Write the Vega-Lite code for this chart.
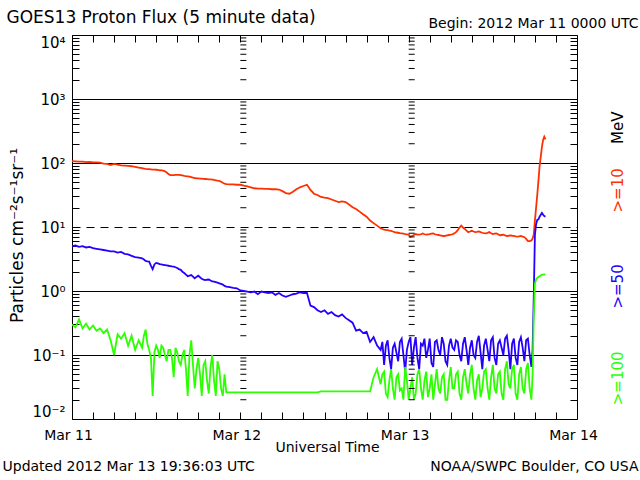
{
  "$schema": "https://vega.github.io/schema/vega-lite/v6.json",
  "width": 505,
  "height": 384,
  "autosize": {"type": "none"},
  "padding": {"left": 72, "top": 35, "right": 63, "bottom": 61},
  "background": "white",
  "config": {
    "view": {"stroke": "black", "strokeWidth": 1},
    "font": "DejaVu Sans",
    "axis": {"domain": false, "tickColor": "black", "labelColor": "black", "titleColor": "black", "labelFont": "DejaVu Sans", "titleFont": "DejaVu Sans", "titleFontWeight": "normal", "labelOverlap": false, "labelBound": false, "labelLimit": 500, "titleLimit": 500}
  },
  "resolve": {"scale": {"x": "independent", "y": "independent"}, "axis": {"x": "independent", "y": "independent"}},
  "layer": [
    {
      "data": {"values": [
        {"t":"2012-03-11T00:00Z","p10":107,"p50":5.01,"p100":0.30},
        {"t":"2012-03-11T00:30Z","p10":106,"p50":5.13,"p100":0.27},
        {"t":"2012-03-11T01:00Z","p10":105,"p50":4.90,"p100":0.36},
        {"t":"2012-03-11T01:30Z","p10":105,"p50":5.01,"p100":0.26},
        {"t":"2012-03-11T02:00Z","p10":103,"p50":4.79,"p100":0.31},
        {"t":"2012-03-11T02:30Z","p10":104,"p50":4.90,"p100":0.25},
        {"t":"2012-03-11T03:00Z","p10":102,"p50":4.68,"p100":0.29},
        {"t":"2012-03-11T03:30Z","p10":102,"p50":4.57,"p100":0.24},
        {"t":"2012-03-11T04:00Z","p10":101,"p50":4.47,"p100":0.26},
        {"t":"2012-03-11T04:30Z","p10":98,"p50":4.37,"p100":0.22},
        {"t":"2012-03-11T05:00Z","p10":97,"p50":4.27,"p100":0.25},
        {"t":"2012-03-11T05:30Z","p10":93,"p50":4.17,"p100":0.17},
        {"t":"2012-03-11T06:00Z","p10":97,"p50":4.17,"p100":0.10},
        {"t":"2012-03-11T06:30Z","p10":94,"p50":3.98,"p100":0.21},
        {"t":"2012-03-11T07:00Z","p10":92,"p50":4.07,"p100":0.18},
        {"t":"2012-03-11T07:30Z","p10":91,"p50":3.80,"p100":0.22},
        {"t":"2012-03-11T08:00Z","p10":90,"p50":3.72,"p100":0.14},
        {"t":"2012-03-11T08:30Z","p10":89,"p50":3.55,"p100":0.20},
        {"t":"2012-03-11T09:00Z","p10":87,"p50":3.39,"p100":0.12},
        {"t":"2012-03-11T09:30Z","p10":85,"p50":3.31,"p100":0.17},
        {"t":"2012-03-11T10:00Z","p10":83,"p50":3.24,"p100":0.13},
        {"t":"2012-03-11T10:15Z","p10":82,"p50":3.1,"p100":0.20},
        {"t":"2012-03-11T10:30Z","p10":81,"p50":2.95,"p100":0.25},
        {"t":"2012-03-11T10:45Z","p10":80.5,"p50":2.9,"p100":0.15},
        {"t":"2012-03-11T11:00Z","p10":80,"p50":2.88,"p100":0.12},
        {"t":"2012-03-11T11:15Z","p10":79.5,"p50":2.5,"p100":0.09},
        {"t":"2012-03-11T11:30Z","p10":79,"p50":2.19,"p100":0.023},
        {"t":"2012-03-11T11:45Z","p10":78.7,"p50":2.6,"p100":0.11},
        {"t":"2012-03-11T12:00Z","p10":78.5,"p50":2.75,"p100":0.14},
        {"t":"2012-03-11T12:15Z","p10":77.8,"p50":2.7,"p100":0.12},
        {"t":"2012-03-11T12:30Z","p10":77,"p50":2.63,"p100":0.09},
        {"t":"2012-03-11T12:45Z","p10":76.5,"p50":2.6,"p100":0.14},
        {"t":"2012-03-11T13:00Z","p10":76,"p50":2.57,"p100":0.13},
        {"t":"2012-03-11T13:15Z","p10":74,"p50":2.54,"p100":0.10},
        {"t":"2012-03-11T13:30Z","p10":71,"p50":2.51,"p100":0.08},
        {"t":"2012-03-11T13:45Z","p10":67,"p50":2.48,"p100":0.12},
        {"t":"2012-03-11T14:00Z","p10":64.6,"p50":2.45,"p100":0.12},
        {"t":"2012-03-11T14:15Z","p10":64.5,"p50":2.42,"p100":0.09},
        {"t":"2012-03-11T14:30Z","p10":64.5,"p50":2.40,"p100":0.045},
        {"t":"2012-03-11T14:45Z","p10":65,"p50":2.35,"p100":0.13},
        {"t":"2012-03-11T15:00Z","p10":65.3,"p50":2.29,"p100":0.11},
        {"t":"2012-03-11T15:15Z","p10":65,"p50":2.2,"p100":0.08},
        {"t":"2012-03-11T15:30Z","p10":64.6,"p50":2.14,"p100":0.07},
        {"t":"2012-03-11T15:45Z","p10":63.8,"p50":2.0,"p100":0.10},
        {"t":"2012-03-11T16:00Z","p10":63,"p50":1.91,"p100":0.12},
        {"t":"2012-03-11T16:15Z","p10":62.3,"p50":1.8,"p100":0.06},
        {"t":"2012-03-11T16:30Z","p10":61.7,"p50":1.70,"p100":0.023},
        {"t":"2012-03-11T16:45Z","p10":61,"p50":1.74,"p100":0.10},
        {"t":"2012-03-11T17:00Z","p10":60.3,"p50":1.78,"p100":0.17},
        {"t":"2012-03-11T17:15Z","p10":59.2,"p50":1.68,"p100":0.07},
        {"t":"2012-03-11T17:30Z","p10":58.2,"p50":1.58,"p100":0.03},
        {"t":"2012-03-11T17:45Z","p10":57.8,"p50":1.66,"p100":0.06},
        {"t":"2012-03-11T18:00Z","p10":57.5,"p50":1.74,"p100":0.09},
        {"t":"2012-03-11T18:15Z","p10":57.2,"p50":1.64,"p100":0.05},
        {"t":"2012-03-11T18:30Z","p10":56.9,"p50":1.55,"p100":0.023},
        {"t":"2012-03-11T18:45Z","p10":56.5,"p50":1.5,"p100":0.07},
        {"t":"2012-03-11T19:00Z","p10":56.2,"p50":1.48,"p100":0.08},
        {"t":"2012-03-11T19:15Z","p10":55.9,"p50":1.5,"p100":0.04},
        {"t":"2012-03-11T19:30Z","p10":55.6,"p50":1.51,"p100":0.025},
        {"t":"2012-03-11T19:45Z","p10":55.3,"p50":1.46,"p100":0.065},
        {"t":"2012-03-11T20:00Z","p10":55,"p50":1.41,"p100":0.10},
        {"t":"2012-03-11T20:15Z","p10":54.3,"p50":1.4,"p100":0.04},
        {"t":"2012-03-11T20:30Z","p10":53.7,"p50":1.38,"p100":0.023},
        {"t":"2012-03-11T20:45Z","p10":53,"p50":1.35,"p100":0.08},
        {"t":"2012-03-11T21:00Z","p10":52.5,"p50":1.32,"p100":0.06},
        {"t":"2012-03-11T21:15Z","p10":51,"p50":1.29,"p100":0.03},
        {"t":"2012-03-11T21:30Z","p10":49,"p50":1.26,"p100":0.023},
        {"t":"2012-03-11T21:45Z","p10":47.5,"p50":1.2,"p100":0.05},
        {"t":"2012-03-11T22:00Z","p10":46.8,"p50":1.17,"p100":0.026},
        {"t":"2012-03-11T22:30Z","p10":46.2,"p50":1.15,"p100":0.026},
        {"t":"2012-03-11T23:00Z","p10":46.2,"p50":1.12,"p100":0.026},
        {"t":"2012-03-11T23:30Z","p10":45.7,"p50":1.10,"p100":0.026},
        {"t":"2012-03-12T00:00Z","p10":45.7,"p50":1.02,"p100":0.026},
        {"t":"2012-03-12T00:30Z","p10":44.2,"p50":1.00,"p100":0.026},
        {"t":"2012-03-12T01:00Z","p10":43.2,"p50":0.98,"p100":0.026},
        {"t":"2012-03-12T01:30Z","p10":41.7,"p50":0.955,"p100":0.026},
        {"t":"2012-03-12T02:00Z","p10":40.3,"p50":0.98,"p100":0.026},
        {"t":"2012-03-12T02:30Z","p10":39.8,"p50":0.89,"p100":0.026},
        {"t":"2012-03-12T03:00Z","p10":39.8,"p50":0.98,"p100":0.026},
        {"t":"2012-03-12T03:30Z","p10":39.4,"p50":0.955,"p100":0.026},
        {"t":"2012-03-12T04:00Z","p10":39.4,"p50":0.93,"p100":0.026},
        {"t":"2012-03-12T04:30Z","p10":38.9,"p50":0.955,"p100":0.026},
        {"t":"2012-03-12T05:00Z","p10":38.9,"p50":0.87,"p100":0.026},
        {"t":"2012-03-12T05:30Z","p10":38.5,"p50":0.93,"p100":0.026},
        {"t":"2012-03-12T06:00Z","p10":36.3,"p50":0.85,"p100":0.026},
        {"t":"2012-03-12T06:30Z","p10":33.9,"p50":0.81,"p100":0.026},
        {"t":"2012-03-12T07:00Z","p10":33.1,"p50":0.85,"p100":0.026},
        {"t":"2012-03-12T07:30Z","p10":35.5,"p50":0.89,"p100":0.026},
        {"t":"2012-03-12T08:00Z","p10":38.9,"p50":0.91,"p100":0.026},
        {"t":"2012-03-12T08:30Z","p10":41.7,"p50":0.955,"p100":0.026},
        {"t":"2012-03-12T09:00Z","p10":43.7,"p50":0.93,"p100":0.026},
        {"t":"2012-03-12T09:30Z","p10":45.7,"p50":0.93,"p100":0.026},
        {"t":"2012-03-12T10:00Z","p10":38,"p50":0.59,"p100":0.026},
        {"t":"2012-03-12T10:30Z","p10":33.1,"p50":0.56,"p100":0.026},
        {"t":"2012-03-12T11:00Z","p10":31.6,"p50":0.50,"p100":0.026},
        {"t":"2012-03-12T11:30Z","p10":29.5,"p50":0.47,"p100":0.027},
        {"t":"2012-03-12T12:00Z","p10":28.8,"p50":0.50,"p100":0.027},
        {"t":"2012-03-12T12:30Z","p10":28.2,"p50":0.44,"p100":0.027},
        {"t":"2012-03-12T13:00Z","p10":26.9,"p50":0.47,"p100":0.027},
        {"t":"2012-03-12T13:30Z","p10":25.7,"p50":0.42,"p100":0.027},
        {"t":"2012-03-12T14:00Z","p10":24.5,"p50":0.40,"p100":0.027},
        {"t":"2012-03-12T14:30Z","p10":25.1,"p50":0.43,"p100":0.027},
        {"t":"2012-03-12T15:00Z","p10":24.5,"p50":0.38,"p100":0.027},
        {"t":"2012-03-12T15:30Z","p10":22.4,"p50":0.35,"p100":0.027},
        {"t":"2012-03-12T16:00Z","p10":20.4,"p50":0.32,"p100":0.027},
        {"t":"2012-03-12T16:30Z","p10":19.1,"p50":0.24,"p100":0.027},
        {"t":"2012-03-12T17:00Z","p10":17.4,"p50":0.25,"p100":0.027},
        {"t":"2012-03-12T17:30Z","p10":15.8,"p50":0.22,"p100":0.027},
        {"t":"2012-03-12T18:00Z","p10":14.5,"p50":0.23,"p100":0.027},
        {"t":"2012-03-12T18:30Z","p10":12.6,"p50":0.16,"p100":0.027},
        {"t":"2012-03-12T19:00Z","p10":11.5,"p50":0.19,"p100":0.045},
        {"t":"2012-03-12T19:30Z","p10":10.5,"p50":0.14,"p100":0.06},
        {"t":"2012-03-12T20:00Z","p10":9.55,"p50":0.12,"p100":0.035},
        {"t":"2012-03-12T20:15Z","p10":9.3,"p50":0.16,"p100":0.05},
        {"t":"2012-03-12T20:30Z","p10":9.12,"p50":0.07,"p100":0.055},
        {"t":"2012-03-12T20:45Z","p10":9.0,"p50":0.14,"p100":0.025},
        {"t":"2012-03-12T21:00Z","p10":8.91,"p50":0.17,"p100":0.022},
        {"t":"2012-03-12T21:15Z","p10":8.8,"p50":0.09,"p100":0.04},
        {"t":"2012-03-12T21:30Z","p10":8.71,"p50":0.06,"p100":0.06},
        {"t":"2012-03-12T21:45Z","p10":8.5,"p50":0.13,"p100":0.03},
        {"t":"2012-03-12T22:00Z","p10":8.32,"p50":0.15,"p100":0.02},
        {"t":"2012-03-12T22:15Z","p10":8.2,"p50":0.11,"p100":0.045},
        {"t":"2012-03-12T22:30Z","p10":8.13,"p50":0.08,"p100":0.05},
        {"t":"2012-03-12T22:45Z","p10":8.0,"p50":0.16,"p100":0.028},
        {"t":"2012-03-12T23:00Z","p10":7.94,"p50":0.18,"p100":0.03},
        {"t":"2012-03-12T23:15Z","p10":7.85,"p50":0.10,"p100":0.02},
        {"t":"2012-03-12T23:30Z","p10":7.76,"p50":0.055,"p100":0.065},
        {"t":"2012-03-12T23:45Z","p10":7.7,"p50":0.12,"p100":0.04},
        {"t":"2012-03-13T00:00Z","p10":7.59,"p50":0.16,"p100":0.02},
        {"t":"2012-03-13T00:15Z","p10":7.0,"p50":0.19,"p100":0.03},
        {"t":"2012-03-13T00:30Z","p10":7.24,"p50":0.07,"p100":0.045},
        {"t":"2012-03-13T00:45Z","p10":7.5,"p50":0.13,"p100":0.02},
        {"t":"2012-03-13T01:00Z","p10":7.76,"p50":0.19,"p100":0.025},
        {"t":"2012-03-13T01:15Z","p10":7.6,"p50":0.09,"p100":0.05},
        {"t":"2012-03-13T01:30Z","p10":7.59,"p50":0.06,"p100":0.06},
        {"t":"2012-03-13T01:45Z","p10":7.7,"p50":0.15,"p100":0.03},
        {"t":"2012-03-13T02:00Z","p10":7.94,"p50":0.14,"p100":0.02},
        {"t":"2012-03-13T02:15Z","p10":7.7,"p50":0.18,"p100":0.04},
        {"t":"2012-03-13T02:30Z","p10":7.59,"p50":0.09,"p100":0.055},
        {"t":"2012-03-13T02:45Z","p10":7.7,"p50":0.12,"p100":0.022},
        {"t":"2012-03-13T03:00Z","p10":7.76,"p50":0.18,"p100":0.03},
        {"t":"2012-03-13T03:15Z","p10":7.9,"p50":0.075,"p100":0.05},
        {"t":"2012-03-13T03:30Z","p10":7.94,"p50":0.065,"p100":0.02},
        {"t":"2012-03-13T03:45Z","p10":7.7,"p50":0.16,"p100":0.035},
        {"t":"2012-03-13T04:00Z","p10":7.59,"p50":0.17,"p100":0.06},
        {"t":"2012-03-13T04:15Z","p10":7.5,"p50":0.12,"p100":0.03},
        {"t":"2012-03-13T04:30Z","p10":7.41,"p50":0.10,"p100":0.025},
        {"t":"2012-03-13T04:45Z","p10":7.3,"p50":0.19,"p100":0.045},
        {"t":"2012-03-13T05:00Z","p10":7.24,"p50":0.15,"p100":0.05},
        {"t":"2012-03-13T05:15Z","p10":7.3,"p50":0.08,"p100":0.02},
        {"t":"2012-03-13T05:30Z","p10":7.41,"p50":0.07,"p100":0.02},
        {"t":"2012-03-13T05:45Z","p10":7.5,"p50":0.14,"p100":0.04},
        {"t":"2012-03-13T06:00Z","p10":7.59,"p50":0.18,"p100":0.065},
        {"t":"2012-03-13T06:15Z","p10":7.7,"p50":0.13,"p100":0.03},
        {"t":"2012-03-13T06:30Z","p10":7.94,"p50":0.12,"p100":0.03},
        {"t":"2012-03-13T06:45Z","p10":8.3,"p50":0.17,"p100":0.05},
        {"t":"2012-03-13T07:00Z","p10":8.91,"p50":0.16,"p100":0.055},
        {"t":"2012-03-13T07:15Z","p10":9.8,"p50":0.10,"p100":0.025},
        {"t":"2012-03-13T07:30Z","p10":10.5,"p50":0.08,"p100":0.02},
        {"t":"2012-03-13T07:45Z","p10":9.8,"p50":0.15,"p100":0.045},
        {"t":"2012-03-13T08:00Z","p10":9.33,"p50":0.19,"p100":0.06},
        {"t":"2012-03-13T08:15Z","p10":8.8,"p50":0.12,"p100":0.035},
        {"t":"2012-03-13T08:30Z","p10":8.32,"p50":0.07,"p100":0.025},
        {"t":"2012-03-13T08:45Z","p10":8.5,"p50":0.13,"p100":0.05},
        {"t":"2012-03-13T09:00Z","p10":8.71,"p50":0.17,"p100":0.07},
        {"t":"2012-03-13T09:15Z","p10":8.5,"p50":0.10,"p100":0.03},
        {"t":"2012-03-13T09:30Z","p10":8.32,"p50":0.09,"p100":0.02},
        {"t":"2012-03-13T09:45Z","p10":8.4,"p50":0.16,"p100":0.04},
        {"t":"2012-03-13T10:00Z","p10":8.51,"p50":0.20,"p100":0.05},
        {"t":"2012-03-13T10:15Z","p10":8.3,"p50":0.11,"p100":0.022},
        {"t":"2012-03-13T10:30Z","p10":8.13,"p50":0.06,"p100":0.03},
        {"t":"2012-03-13T10:45Z","p10":8.0,"p50":0.14,"p100":0.055},
        {"t":"2012-03-13T11:00Z","p10":7.94,"p50":0.18,"p100":0.06},
        {"t":"2012-03-13T11:15Z","p10":8.1,"p50":0.12,"p100":0.03},
        {"t":"2012-03-13T11:30Z","p10":8.32,"p50":0.08,"p100":0.02},
        {"t":"2012-03-13T11:45Z","p10":8.0,"p50":0.17,"p100":0.045},
        {"t":"2012-03-13T12:00Z","p10":7.76,"p50":0.19,"p100":0.07},
        {"t":"2012-03-13T12:15Z","p10":7.85,"p50":0.09,"p100":0.03},
        {"t":"2012-03-13T12:30Z","p10":7.94,"p50":0.07,"p100":0.025},
        {"t":"2012-03-13T12:45Z","p10":7.7,"p50":0.15,"p100":0.05},
        {"t":"2012-03-13T13:00Z","p10":7.41,"p50":0.17,"p100":0.055},
        {"t":"2012-03-13T13:15Z","p10":7.5,"p50":0.13,"p100":0.025},
        {"t":"2012-03-13T13:30Z","p10":7.59,"p50":0.10,"p100":0.02},
        {"t":"2012-03-13T13:45Z","p10":7.4,"p50":0.18,"p100":0.06},
        {"t":"2012-03-13T14:00Z","p10":7.24,"p50":0.20,"p100":0.08},
        {"t":"2012-03-13T14:15Z","p10":7.3,"p50":0.12,"p100":0.035},
        {"t":"2012-03-13T14:30Z","p10":7.41,"p50":0.06,"p100":0.03},
        {"t":"2012-03-13T14:45Z","p10":7.3,"p50":0.15,"p100":0.06},
        {"t":"2012-03-13T15:00Z","p10":7.24,"p50":0.18,"p100":0.07},
        {"t":"2012-03-13T15:15Z","p10":7.15,"p50":0.09,"p100":0.025},
        {"t":"2012-03-13T15:30Z","p10":7.08,"p50":0.07,"p100":0.02},
        {"t":"2012-03-13T15:45Z","p10":7.15,"p50":0.16,"p100":0.05},
        {"t":"2012-03-13T16:00Z","p10":7.24,"p50":0.19,"p100":0.065},
        {"t":"2012-03-13T16:15Z","p10":7.1,"p50":0.13,"p100":0.03},
        {"t":"2012-03-13T16:30Z","p10":6.92,"p50":0.08,"p100":0.025},
        {"t":"2012-03-13T16:45Z","p10":6.5,"p50":0.17,"p100":0.06},
        {"t":"2012-03-13T17:00Z","p10":6.03,"p50":0.18,"p100":0.075},
        {"t":"2012-03-13T17:15Z","p10":6.0,"p50":0.10,"p100":0.03},
        {"t":"2012-03-13T17:30Z","p10":6.17,"p50":0.065,"p100":0.02},
        {"t":"2012-03-13T17:40Z","p10":6.6,"p50":0.12,"p100":0.05},
        {"t":"2012-03-13T17:50Z","p10":7.6,"p50":0.8,"p100":0.4},
        {"t":"2012-03-13T18:00Z","p10":12.6,"p50":7.5,"p100":1.3},
        {"t":"2012-03-13T18:10Z","p10":20,"p50":11,"p100":1.5},
        {"t":"2012-03-13T18:20Z","p10":31.6,"p50":12.9,"p100":1.6},
        {"t":"2012-03-13T18:30Z","p10":52.5,"p50":13.2,"p100":1.65},
        {"t":"2012-03-13T18:40Z","p10":89,"p50":14.5,"p100":1.7},
        {"t":"2012-03-13T18:50Z","p10":126,"p50":15.5,"p100":1.75},
        {"t":"2012-03-13T19:00Z","p10":178,"p50":16.6,"p100":1.8},
        {"t":"2012-03-13T19:10Z","p10":229,"p50":15.5,"p100":1.8},
        {"t":"2012-03-13T19:20Z","p10":257,"p50":14.8,"p100":1.82},
        {"t":"2012-03-13T19:30Z","p10":234,"p50":14.5,"p100":1.8}
      ]},
      "transform": [{"fold": ["p10", "p50", "p100"], "as": ["s", "v"]}],
      "mark": {"type": "line", "strokeWidth": 1.8, "clip": true},
      "encoding": {
        "x": {
          "field": "t", "type": "temporal",
          "scale": {"type": "utc", "domain": [1331424000000, 1331683200000]},
          "axis": {
            "orient": "bottom",
            "values": [1331424000000, 1331424001000, 1331434800000, 1331445600000, 1331456400000, 1331467200000, 1331478000000, 1331488800000, 1331499600000, 1331510400000, 1331521200000, 1331532000000, 1331542800000, 1331553600000, 1331564400000, 1331575200000, 1331586000000, 1331596800000, 1331607600000, 1331618400000, 1331629200000, 1331640000000, 1331650800000, 1331661600000, 1331672400000, 1331683199000, 1331683200000],
            "labelExpr": "time(datum.value) == 1331424001000 ? 'Updated 2012 Mar 13 19:36:03 UTC' : time(datum.value) == 1331683199000 ? 'NOAA/SWPC Boulder, CO USA' : utchours(datum.value) == 0 ? utcFormat(datum.value, '%b %d') : ''",
            "labelFlush": false,
            "labelOverlap": false,
            "labelLimit": 500,
            "labelFontSize": 14,
            "labelAngle": 0,
            "labelBaseline": "top",
            "labelAlign": {"condition": [{"test": "time(datum.value) == 1331424001000", "value": "left"}, {"test": "time(datum.value) == 1331683199000", "value": "right"}], "value": "center"},
            "labelOffset": {"condition": [{"test": "time(datum.value) == 1331424001000", "value": -70}, {"test": "time(datum.value) == 1331683199000", "value": 61}], "value": -4},
            "labelPadding": {"condition": {"test": "time(datum.value) == 1331424001000 || time(datum.value) == 1331683199000", "value": 47}, "value": 16},
            "tickSize": -7,
            "tickOpacity": {"condition": {"test": "time(datum.value) == 1331424001000 || time(datum.value) == 1331683199000", "value": 0}, "value": 1},
            "grid": false,
            "title": "Universal Time",
            "titleFontSize": 14,
            "titleX": 255,
            "titleY": 28,
            "titleAlign": "center",
            "titleBaseline": "middle",
            "titleAngle": 0
          }
        },
        "y": {
          "field": "v", "type": "quantitative",
          "scale": {"type": "log", "domain": [0.01, 10000], "nice": false},
          "axis": {
            "orient": "left",
            "values": [0.01,0.02,0.03,0.04,0.05,0.06,0.07,0.08,0.09,0.1,0.2,0.3,0.4,0.5,0.6,0.7,0.8,0.9,1,2,3,4,5,6,7,8,9,10,20,30,40,50,60,70,80,90,100,200,300,400,500,600,700,800,900,1000,2000,3000,4000,5000,6000,7000,8000,9000,10000],
            "labelExpr": "datum.value == 10000 ? '10⁴' : datum.value == 1000 ? '10³' : datum.value == 100 ? '10²' : datum.value == 10 ? '10¹' : datum.value == 1 ? '10⁰' : datum.value == 0.1 ? '10⁻¹' : datum.value == 0.01 ? '10⁻²' : ''",
            "labelFontSize": 15,
            "labelFlush": true,
            "labelOverlap": false,
            "labelPadding": 14,
            "tickSize": -7,
            "grid": true,
            "gridColor": "black",
            "gridWidth": 1,
            "gridOpacity": {"condition": {"test": "indexof([0.1, 1, 10, 100, 1000], datum.value) >= 0", "value": 1}, "value": 0},
            "gridDash": {"condition": {"test": "datum.value == 10", "value": [8, 6]}, "value": []},
            "title": "Particles cm⁻²s⁻¹sr⁻¹",
            "titleFontSize": 17,
            "titleAngle": 270,
            "titleX": -55,
            "titleY": 200,
            "titleAlign": "center",
            "titleBaseline": "middle"
          }
        },
        "color": {
          "field": "s", "type": "nominal",
          "scale": {"domain": ["p10", "p50", "p100"], "range": ["#ff3000", "#2400ff", "#2cff00"]},
          "legend": null
        }
      }
    },
    {
      "data": {"values": [
        {"d": 1331510400000, "v": [0.02,0.03,0.04,0.05,0.06,0.07,0.08,0.09,0.2,0.3,0.4,0.5,0.6,0.7,0.8,0.9,2,3,4,5,6,7,8,9,20,30,40,50,60,70,80,90,200,300,400,500,600,700,800,900,2000,3000,4000,5000,6000,7000,8000,9000]},
        {"d": 1331596800000, "v": [0.02,0.03,0.04,0.05,0.06,0.07,0.08,0.09,0.2,0.3,0.4,0.5,0.6,0.7,0.8,0.9,2,3,4,5,6,7,8,9,20,30,40,50,60,70,80,90,200,300,400,500,600,700,800,900,2000,3000,4000,5000,6000,7000,8000,9000]}
      ]},
      "transform": [{"flatten": ["v"]}],
      "mark": {"type": "tick", "orient": "horizontal", "size": 6, "thickness": 1, "color": "black", "opacity": 1, "xOffset": 3},
      "encoding": {
        "x": {
          "field": "d", "type": "temporal",
          "scale": {"type": "utc", "domain": [1331424000000, 1331683200000]},
          "axis": {
            "orient": "top",
            "values": [1331424000000, 1331434800000, 1331445600000, 1331456400000, 1331467200000, 1331478000000, 1331488800000, 1331499600000, 1331510400000, 1331521200000, 1331532000000, 1331542800000, 1331553600000, 1331564400000, 1331575200000, 1331586000000, 1331596800000, 1331607600000, 1331618400000, 1331629200000, 1331640000000, 1331650800000, 1331661600000, 1331672400000, 1331683200000],
            "labelExpr": "time(datum.value) == 1331683200000 ? 'Begin: 2012 Mar 11 0000 UTC' : ''",
            "labelFlush": false,
            "labelOverlap": false,
            "labelLimit": 500,
            "labelFontSize": 14,
            "labelAngle": 0,
            "labelAlign": "right",
            "labelBaseline": "bottom",
            "labelOffset": 61,
            "labelPadding": 12,
            "tickSize": -7,
            "grid": false,
            "title": "GOES13 Proton Flux (5 minute data)",
            "titleFontSize": 17,
            "titleX": -66,
            "titleY": -13,
            "titleAlign": "left",
            "titleBaseline": "alphabetic",
            "titleAngle": 0
          }
        },
        "y": {
          "field": "v", "type": "quantitative",
          "scale": {"type": "log", "domain": [0.01, 10000], "nice": false},
          "axis": {
            "orient": "right",
            "values": [0.02,0.03,0.04,0.05,0.06,0.07,0.08,0.09,0.2,0.3,0.4,0.5,0.6,0.7,0.8,0.9,2,3,4,5,6,7,8,9,20,30,40,50,60,70,80,90,200,300,400,500,600,700,800,900,2000,3000,4000,5000,6000,7000,8000,9000,0.044,1.2,38,363],
            "labelExpr": "datum.value == 363 ? 'MeV' : datum.value == 38 ? '>=10' : datum.value == 1.2 ? '>=50' : datum.value == 0.044 ? '>=100' : ''",
            "labelFontSize": 15,
            "labelAngle": 270,
            "labelAlign": "center",
            "labelBaseline": "top",
            "labelFlush": false,
            "labelOverlap": false,
            "labelPadding": 40,
            "labelColor": {"condition": [{"test": "datum.value == 38", "value": "#ff3000"}, {"test": "datum.value == 1.2", "value": "#2400ff"}, {"test": "datum.value == 0.044", "value": "#2cff00"}], "value": "black"},
            "tickSize": -7,
            "tickOpacity": {"condition": {"test": "indexof([0.044, 1.2, 38, 363], datum.value) >= 0", "value": 0}, "value": 1},
            "grid": false,
            "title": null
          }
        }
      }
    }
  ]
}
